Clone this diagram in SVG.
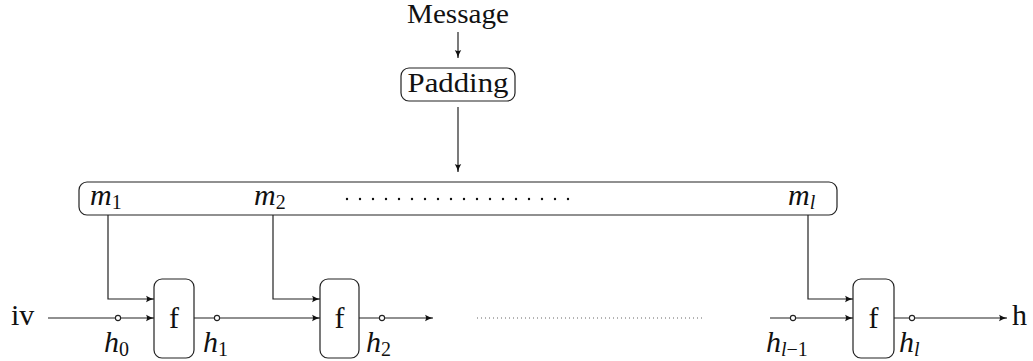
<svg xmlns="http://www.w3.org/2000/svg" width="1033" height="361" viewBox="0 0 1033 361">
<defs>
<marker id="arr" markerWidth="10" markerHeight="8" refX="9" refY="4" orient="auto" markerUnits="userSpaceOnUse">
<path d="M1,0.8 Q5,3.2 9,4 Q5,4.8 1,7.2 Q3,4 1,0.8 z" fill="#111"/>
</marker>
<style>
.ln{fill:none;stroke:#222;stroke-width:1.2}
.bx{fill:none;stroke:#222;stroke-width:1.2}
.rm{font-family:"Liberation Serif","DejaVu Serif",serif;font-size:27px;fill:#111}
.rl{font-family:"Liberation Serif","DejaVu Serif",serif;font-size:30px;fill:#111}
.it{font-family:"Liberation Serif","DejaVu Serif",serif;font-size:30px;font-style:italic;fill:#111}
.sb{font-family:"Liberation Serif","DejaVu Serif",serif;font-size:20px;font-style:normal;fill:#111}
.sbi{font-family:"Liberation Serif","DejaVu Serif",serif;font-size:20px;font-style:italic;fill:#111}
.pt{fill:#fff;stroke:#222;stroke-width:1.1}
</style>
</defs>
<g id="message"><text class="rm" x="458" y="23" text-anchor="middle" textLength="102" lengthAdjust="spacingAndGlyphs">Message</text></g>
<g id="padding"><rect class="bx" x="401" y="68" width="114" height="33" rx="8"/><text class="rm" x="458" y="92" text-anchor="middle" textLength="101" lengthAdjust="spacingAndGlyphs">Padding</text></g>
<g id="blocks">
<rect class="bx" x="79" y="182" width="758" height="33" rx="8"/>
<text class="it" x="90" y="205">m<tspan class="sb" dy="4">1</tspan></text>
<text class="it" x="254" y="205">m<tspan class="sb" dy="4">2</tspan></text>
<text class="it" x="788" y="205">m<tspan class="sbi" dy="4">l</tspan></text>
<line x1="347" y1="199" x2="569" y2="199" stroke="#111" stroke-width="2.4" stroke-linecap="round" stroke-dasharray="0 13"/>
</g>
<g id="f1"><rect class="bx" x="154" y="279" width="40" height="79" rx="8"/><text class="rl" x="174" y="328" text-anchor="middle">f</text></g>
<g id="f2"><rect class="bx" x="320" y="279" width="39" height="79" rx="8"/><text class="rl" x="339.5" y="328" text-anchor="middle">f</text></g>
<g id="fl"><rect class="bx" x="853" y="279" width="41" height="79" rx="8"/><text class="rl" x="873.5" y="328" text-anchor="middle">f</text></g>
<g id="labels">
<text class="rl" x="11" y="325">iv</text>
<text class="rl" x="1012" y="325">h</text>
<text class="it" x="104" y="352">h<tspan class="sb" dy="4">0</tspan></text>
<text class="it" x="203" y="352">h<tspan class="sb" dy="4">1</tspan></text>
<text class="it" x="366" y="352">h<tspan class="sb" dy="4">2</tspan></text>
<text class="it" x="766" y="352">h<tspan class="sbi" dy="4">l</tspan><tspan class="sb">−1</tspan></text>
<text class="it" x="899" y="352">h<tspan class="sbi" dy="4">l</tspan></text>
</g>
<g id="connectors">
<line class="ln" x1="458" y1="32" x2="458" y2="58" marker-end="url(#arr)"/>
<line class="ln" x1="458" y1="107" x2="458" y2="172" marker-end="url(#arr)"/>
<polyline class="ln" points="108,215 108,299 154,299" marker-end="url(#arr)"/>
<polyline class="ln" points="273,215 273,299 320,299" marker-end="url(#arr)"/>
<polyline class="ln" points="808,215 808,299 853,299" marker-end="url(#arr)"/>
<line class="ln" x1="48" y1="318" x2="154" y2="318" marker-end="url(#arr)"/>
<line class="ln" x1="194" y1="318" x2="320" y2="318" marker-end="url(#arr)"/>
<line class="ln" x1="359" y1="318" x2="433" y2="318" marker-end="url(#arr)"/>
<line class="ln" x1="770" y1="318" x2="853" y2="318" marker-end="url(#arr)"/>
<line class="ln" x1="894" y1="318" x2="1007" y2="318" marker-end="url(#arr)"/>
<line x1="477" y1="318" x2="702" y2="318" stroke="#666" stroke-width="1" stroke-dasharray="1 3"/>
<circle class="pt" cx="118" cy="318" r="2.6"/>
<circle class="pt" cx="217" cy="318" r="2.6"/>
<circle class="pt" cx="382" cy="318" r="2.6"/>
<circle class="pt" cx="793" cy="318" r="2.6"/>
<circle class="pt" cx="912" cy="318" r="2.6"/>
</g>
</svg>
